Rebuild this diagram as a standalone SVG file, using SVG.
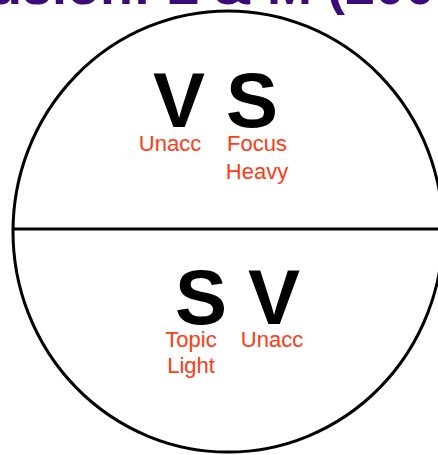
<svg xmlns="http://www.w3.org/2000/svg" width="438" height="455" viewBox="0 0 438 455">
<style>
.title{font-family:"Liberation Sans",Arial,sans-serif;font-weight:bold;font-size:54px;fill:#3b0b7a}
.big{font-family:"Liberation Sans",Arial,sans-serif;font-weight:bold;font-size:78px;fill:#000;text-anchor:middle}
.lab{font-family:"Liberation Sans",Arial,sans-serif;font-size:22px;fill:#ff3a14;text-anchor:middle}
.ln{fill:none;stroke:#000;stroke-width:3}
</style>
<rect width="438" height="455" fill="#fff"/>
<text class="title" x="-104" y="4">Inclusion: L &amp; M (2005)</text>
<g id="connectors">
<ellipse class="ln" cx="228" cy="231.5" rx="215" ry="220.5"/>
<line class="ln" x1="13" y1="229" x2="440" y2="229"/>
</g>
<g id="top">
<text class="big" x="179" y="127">V</text>
<text class="big" x="252" y="127">S</text>
<text class="lab" x="170" y="151">Unacc</text>
<text class="lab"><tspan x="257" y="151">Focus</tspan><tspan x="257" y="179">Heavy</tspan></text>
</g>
<g id="bottom">
<text class="big" x="201" y="324">S</text>
<text class="big" x="274" y="324">V</text>
<text class="lab"><tspan x="191" y="347">Topic</tspan><tspan x="191" y="373">Light</tspan></text>
<text class="lab" x="272" y="347">Unacc</text>
</g>
</svg>
